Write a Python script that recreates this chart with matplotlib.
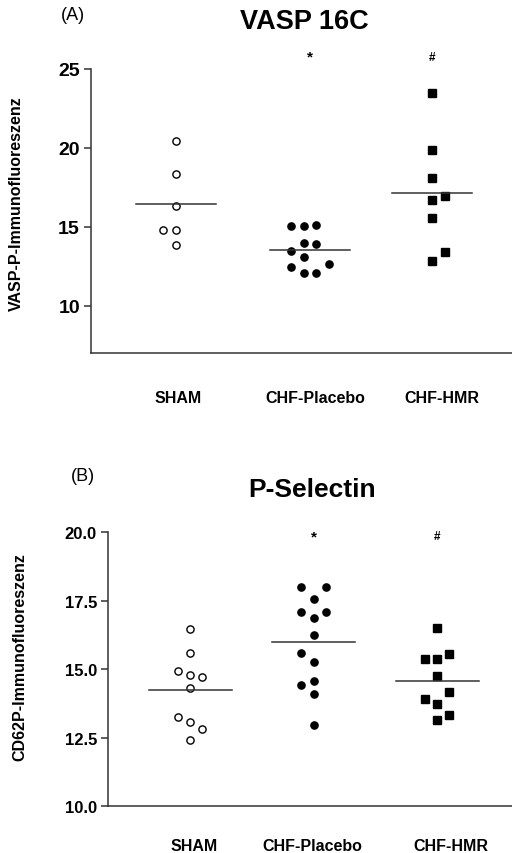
import numpy as np
import matplotlib
matplotlib.use("Agg")
import matplotlib.pyplot as plt

plt.rcParams['font.family'] = ['Liberation Sans', 'DejaVu Sans']

groups = ["SHAM", "CHF-Placebo", "CHF-HMR"]

# panel A: VASP 16C
vasp_sham = [20.42, 18.35, 16.29, 14.81, 14.77, 13.82]
vasp_placebo = [15.05, 15.05, 15.08, 13.99, 13.88, 13.46, 13.08, 12.45, 12.64, 12.09, 12.09]
vasp_hmr = [23.46, 19.85, 18.06, 16.71, 16.94, 15.57, 13.40, 12.83]
vasp_ticks = [10, 15, 20, 25]

# panel B: P-Selectin
psel_sham = [16.47, 15.58, 14.95, 14.78, 14.71, 14.31, 13.25, 13.09, 12.82, 12.43]
psel_placebo = [17.99, 17.99, 17.57, 17.08, 17.08, 16.86, 16.24, 15.60, 15.27, 14.44, 14.59, 14.11, 12.98]
psel_hmr = [16.50, 15.39, 15.39, 15.57, 14.74, 13.93, 14.17, 13.73, 13.33, 13.14]
psel_ticks = [10.0, 12.5, 15.0, 17.5, 20.0]

# side-by-side slots of the points (scatter layout, in marker widths)
vasp_slots = [[0, 0, 0, -1, 0, 0],
              [-1.5, -0.5, 0.5, -0.5, 0.5, -1.5, -0.5, -1.5, 1.5, -0.5, 0.5],
              [0, 0, 0, 0, 1, 0, 1, 0]]
psel_slots = [[0, 0, -1, 0, 1, 0, -1, 0, 1, 0],
              [-1, 1, 0, -1, 1, 0, 0, -1, 0, -1, 0, 0, 0],
              [0, -1, 0, 1, 0, -1, 1, 0, 1, 0]]

DARK = "#333333"
styles = [dict(marker="o", mfc="white", mec="black", mew=1.0, ms=5.2),
          dict(marker="o", mfc="black", mec="black", ms=5.2),
          dict(marker="s", mfc="black", mec="black", ms=5.5)]


def draw_panel(ax, data, slots, pos, step, half, xlim, ylim, ticks, fmt,
               label_pos, ylabel, tick_size, marks_y, xpad):
    for i, (vals, sl) in enumerate(zip(data, slots)):
        x = pos[i] + np.array(sl) * step
        ax.plot(x, vals, linestyle="none", **styles[i])
        m = np.mean(vals)
        ax.plot([pos[i] - half, pos[i] + half], [m, m], color="#333333", lw=1.1)
    ax.text(pos[1], marks_y, "*", ha="center", va="center", fontsize=11, fontweight="bold")
    ax.text(pos[2], marks_y, "#", ha="center", va="center", fontsize=8.5, fontweight="bold")
    ax.set_xlim(*xlim)
    ax.set_ylim(*ylim)
    ax.set_yticks(ticks)
    ax.set_yticklabels([fmt.format(t) for t in ticks], fontsize=tick_size, fontweight="bold")
    ax.set_xticks(label_pos)
    ax.set_xticklabels(groups, fontsize=11.5, fontweight="bold")
    ax.tick_params(axis="x", length=0, pad=xpad)
    ax.tick_params(axis="y", length=5, width=1.1, color=DARK, pad=3)
    for s in ("top", "right"):
        ax.spines[s].set_visible(False)
    for s in ("left", "bottom"):
        ax.spines[s].set_color(DARK)
        ax.spines[s].set_linewidth(1.1)
    ax.spines["left"].set_bounds(ylim[0], ticks[-1])
    ax.set_ylabel(ylabel, fontsize=11.5, fontweight="bold")


fig = plt.figure(figsize=(5.12, 8.54), dpi=100)

axA = fig.add_axes([91 / 512, 1 - 354 / 854, 421 / 512, 300 / 854])
draw_panel(axA, [vasp_sham, vasp_placebo, vasp_hmr], vasp_slots,
           pos=[1, 2, 2.91], step=0.095, half=0.3, xlim=(0.366, 3.508), ylim=(7, 26),
           ticks=vasp_ticks, fmt="{:g}", label_pos=[1.015, 2.038, 2.985],
           ylabel="VASP-P-Immunofluoreszenz", tick_size=14, marks_y=25.75, xpad=27)
axA.yaxis.set_label_coords(-0.16, 0.5)
fig.text(73 / 512, 1 - 15 / 854, "(A)", ha="center", va="center", fontsize=13)
fig.text(304 / 512, 1 - 22 / 854, "VASP 16C", ha="center", va="center", fontsize=19.5, fontweight="bold")

axB = fig.add_axes([108 / 512, 1 - 807.3 / 854, 404 / 512, 301.4 / 854])
draw_panel(axB, [psel_sham, psel_placebo, psel_hmr], psel_slots,
           pos=[1, 2, 3], step=0.0996, half=0.336, xlim=(0.336, 3.607), ylim=(10, 21),
           ticks=psel_ticks, fmt="{:.1f}", label_pos=[1.032, 1.988, 3.113],
           ylabel="CD62P-Immunofluoreszenz", tick_size=12, marks_y=19.85, xpad=22.5)
axB.yaxis.set_label_coords(-0.2, 0.5)
fig.text(83 / 512, 1 - 477 / 854, "(B)", ha="center", va="center", fontsize=13)
fig.text(312 / 512, 1 - 490 / 854, "P-Selectin", ha="center", va="center", fontsize=19, fontweight="bold")

fig.savefig("out.png", dpi=100)
